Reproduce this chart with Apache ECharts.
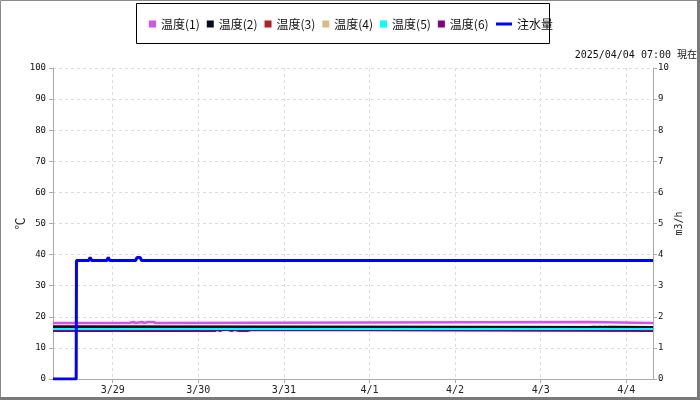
<!DOCTYPE html>
<html><head><meta charset="utf-8">
<script src="https://cdn.jsdelivr.net/npm/echarts@6/dist/echarts.min.js"></script>
<style>html,body{margin:0;padding:0;background:#fff}#c{width:700px;height:400px}</style>
</head><body><div id="c"></div>
<script>
// ---- axis range & labels ----
const axisMin = '2025-03-28 07:15';
const axisMax = '2025-04-04 07:30';
const tempNames = ['温度(1)', '温度(2)', '温度(3)', '温度(4)', '温度(5)', '温度(6)'];
const flowName = '注水量';
const nowLabel = '2025/04/04 07:00 現在';
const leftAxisName = '℃';
const rightAxisName = 'm3/h';

// ---- 温度(1) ----
const t1Times = ['2025-03-28 07:15', '2025-03-29 04:35', '2025-03-29 05:45', '2025-03-29 06:25', '2025-03-29 08:10',
  '2025-03-29 08:45', '2025-03-29 09:55', '2025-03-29 10:25', '2025-03-29 11:20', '2025-03-29 12:05',
  '2025-04-03 13:15', '2025-04-04 07:30'];
const t1Values = [18.0, 18.33, 18.0, 18.33, 18.0, 18.33, 18.0, 18.33, 18.0, 18.33, 18.0, 18.0];
// ---- 温度(2) ----
const t2Times = ['2025-03-28 07:15', '2025-04-04 07:30'];
const t2Values = [16.72, 16.72];
// ---- 温度(3) ----
const t3Times = ['2025-03-28 07:15', '2025-03-28 10:00', '2025-04-04 07:30'];
const t3Values = [17.04, 16.72, 16.72];
// ---- 温度(4) ----
const t4Times = ['2025-03-28 07:15', '2025-03-28 10:00', '2025-03-28 10:40', '2025-04-03 13:55', '2025-04-03 15:00',
  '2025-04-03 15:50', '2025-04-03 16:40', '2025-04-03 17:15', '2025-04-03 18:05', '2025-04-03 18:40',
  '2025-04-03 19:15', '2025-04-04 07:30'];
const t4Values = [16.72, 17.04, 16.72, 17.04, 16.72, 17.04, 16.72, 17.04, 16.72, 17.04, 16.72, 16.72];
// ---- 温度(5) ----
const t5Times = ['2025-03-28 07:15', '2025-04-04 07:30'];
const t5Values = [16.08, 16.08];
// ---- 温度(6) ----
const t6Times = ['2025-03-28 07:15', '2025-03-30 04:40', '2025-03-30 05:15', '2025-03-30 06:05', '2025-03-30 06:55',
  '2025-03-30 07:25', '2025-03-30 08:05', '2025-03-30 09:25', '2025-03-30 10:00', '2025-03-30 11:25',
  '2025-03-30 11:55', '2025-03-30 13:40', '2025-03-30 15:05', '2025-04-04 07:30'];
const t6Values = [15.43, 15.76, 15.43, 15.76, 15.43, 15.76, 15.43, 15.76, 15.43, 15.76, 15.43, 15.76, 15.43, 15.43];
// ---- 注水量 ----
const flowTimes = ['2025-03-28 07:15', '2025-03-28 13:45', '2025-03-28 13:50', '2025-03-28 17:15', '2025-03-28 17:40',
  '2025-03-28 18:05', '2025-03-28 22:20', '2025-03-28 22:45', '2025-03-28 23:10', '2025-03-29 06:25',
  '2025-03-29 06:50', '2025-03-29 07:15', '2025-03-29 07:40', '2025-03-29 08:05', '2025-04-04 07:30'];
const flowValues = [0, 0, 3.81, 3.81, 3.91, 3.81, 3.81, 3.91, 3.81, 3.81, 3.91, 3.85, 3.91, 3.81, 3.81];

const tempColors = ['#d64ff2', '#001020', '#b22222', '#deb887', '#00ffff', '#800080'];
const tempWidths = [2.6, 2, 2, 2, 2, 2];
const flowColor = '#0000ff';

const zip = (ts, vs) => ts.map((t, i) => [t, vs[i]]);
const tempData = [zip(t1Times, t1Values), zip(t2Times, t2Values), zip(t3Times, t3Values),
  zip(t4Times, t4Values), zip(t5Times, t5Values), zip(t6Times, t6Values)];
// draw order (bottom -> top)
const drawOrder = [5, 4, 3, 2, 1, 0];

const mono = 'DejaVu Sans Mono';
const jp = 'Noto Sans CJK JP';

const series = drawOrder.map(i => ({
  name: tempNames[i], type: 'line', step: 'end', showSymbol: false, symbol: 'none',
  yAxisIndex: 0, data: tempData[i], color: tempColors[i],
  lineStyle: { width: tempWidths[i], color: tempColors[i], opacity: 1, cap: 'butt' }, animation: false
}));
series.push({
  name: flowName, type: 'line', showSymbol: false, symbol: 'none', yAxisIndex: 1,
  data: zip(flowTimes, flowValues), color: flowColor,
  lineStyle: { width: 3, color: flowColor }, animation: false
});

const chart = echarts.init(document.getElementById('c'), null, { renderer: 'canvas' });
chart.setOption({
  backgroundColor: '#fff',
  animation: false,
  grid: { left: 53, right: 47, top: 68, bottom: 21, containLabel: false },
  legend: [{
    data: tempNames, left: 149, top: 18, padding: 0, icon: 'rect', itemWidth: 7, itemHeight: 7,
    itemGap: 7, textStyle: { fontFamily: jp, fontSize: 12, color: '#111' }
  }, {
    data: [flowName], left: 496, top: 18, padding: 0, icon: 'rect', itemWidth: 16, itemHeight: 3,
    textStyle: { fontFamily: jp, fontSize: 12, color: '#111' }
  }],
  xAxis: {
    type: 'time', min: axisMin, max: axisMax,
    minInterval: 86400000, maxInterval: 86400000,
    axisLine: { lineStyle: { color: '#aaa' } },
    axisTick: { show: true, length: 4, lineStyle: { color: '#aaa' } },
    axisLabel: {
      fontFamily: mono, fontSize: 10, color: '#222', margin: 6,
      showMinLabel: false, showMaxLabel: false,
      formatter: v => { const d = new Date(v); return (d.getMonth() + 1) + '/' + d.getDate(); }
    },
    splitLine: { show: true, lineStyle: { type: [3, 3], color: '#ddd' } }
  },
  yAxis: [{
    type: 'value', min: 0, max: 100, interval: 10, position: 'left',
    name: leftAxisName, nameLocation: 'middle', nameGap: 27, nameMoveOverlap: false,
    nameTextStyle: { fontFamily: jp, fontSize: 12, color: '#222' },
    axisLine: { show: true, lineStyle: { color: '#aaa' } },
    axisTick: { show: true, length: 4, lineStyle: { color: '#aaa' } },
    axisLabel: { fontFamily: mono, fontSize: 9, color: '#111', margin: 7 },
    splitLine: { show: true, lineStyle: { type: [3, 3], color: '#ddd' } }
  }, {
    type: 'value', min: 0, max: 10, interval: 1, position: 'right',
    name: rightAxisName, nameLocation: 'middle', nameGap: 21, nameMoveOverlap: false,
    nameTextStyle: { fontFamily: mono, fontSize: 10, color: '#222' },
    axisLine: { show: true, lineStyle: { color: '#aaa' } },
    axisTick: { show: true, length: 4, lineStyle: { color: '#aaa' } },
    axisLabel: { fontFamily: mono, fontSize: 9, color: '#111', margin: 5 },
    splitLine: { show: false }
  }],
  graphic: [
    { type: 'rect', silent: true, z: 100, shape: { x: 0.5, y: 0.5, width: 699, height: 399 }, style: { fill: null, stroke: '#8a8a8a', lineWidth: 1 } },
    { type: 'rect', silent: true, z: 100, shape: { x: 697, y: 0, width: 3, height: 400 }, style: { fill: '#7a7a7a' } },
    { type: 'rect', silent: true, z: 100, shape: { x: 0, y: 397, width: 700, height: 3 }, style: { fill: '#7a7a7a' } },
    { type: 'rect', silent: true, z: 100, shape: { x: 136.5, y: 3.5, width: 413, height: 40 }, style: { fill: null, stroke: '#000', lineWidth: 1 } },
    { type: 'text', silent: true, z: 100, x: 697, y: 55, style: { text: nowLabel, align: 'right', verticalAlign: 'middle', fontFamily: mono + ', ' + jp, fontSize: 10, fill: '#111' } }
  ],
  series: series
});
</script></body></html>
